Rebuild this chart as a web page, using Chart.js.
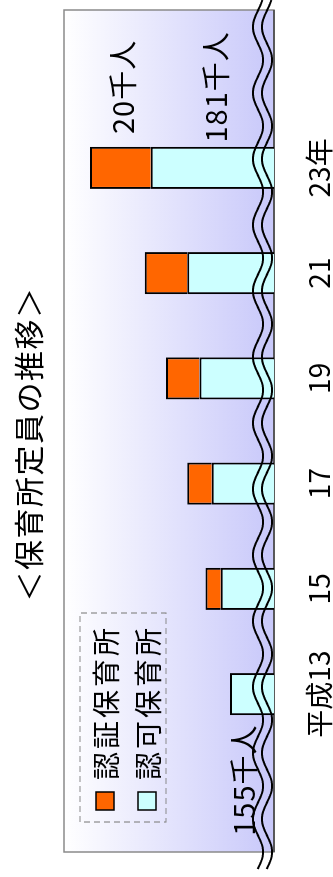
<!DOCTYPE html>
<html lang="ja">
<head>
<meta charset="utf-8">
<title>保育所定員の推移</title>
<script src="https://cdn.jsdelivr.net/npm/chart.js@4/dist/chart.umd.min.js"></script>
<style>
  html, body { margin: 0; padding: 0; background: #fff; overflow: hidden; }
  /* the chart is laid out landscape and turned a quarter turn */
  #wrap {
    position: absolute; left: 0; top: 0;
    width: 877px; height: 333px;
    transform-origin: 0 0;
    transform: translate(0, 877px) rotate(-90deg);
  }
</style>
</head>
<body>
<div id="wrap"><canvas id="chart" width="877" height="333"></canvas></div>
<script>
// blank slots at both ends leave room for the legend and the labels
const categories = ['', '平成13', '15', '17', '19', '21', '23年', ''];
const ninkaValues = [null, 155, 158, 161, 165, 169, 181, null];   // 認可保育所 (千人)
const ninshoValues = [null, null, 5, 8, 11, 14, 20, null];        // 認証保育所 (千人)
const seriesNames = ['認可保育所', '認証保育所'];
const seriesColors = ['#ccffff', '#ff6600'];
const chartTitle = '＜保育所定員の推移＞';
const unit = '千人';
// value axis starts above zero (broken axis)
const axisMin = 140.55;
const axisMax = 209.5;

const FONT = '"Noto Sans CJK JP", "Noto Sans", sans-serif';

const plotBackground = {
  id: 'plotBackground',
  beforeDatasetsDraw(chart) {
    const { ctx, chartArea: a } = chart;
    ctx.save();
    const g = ctx.createLinearGradient(0, a.top, 0, a.bottom);
    g.addColorStop(0, '#ffffff');
    g.addColorStop(1, '#c8c8fa');
    ctx.fillStyle = g;
    ctx.fillRect(a.left, a.top, a.right - a.left, a.bottom - a.top);
    ctx.strokeStyle = '#8a8a8a';
    ctx.lineWidth = 1.5;
    ctx.strokeRect(a.left, a.top, a.right - a.left, a.bottom - a.top);
    ctx.strokeStyle = '#404040';
    ctx.beginPath();
    ctx.moveTo(a.left, a.bottom);
    ctx.lineTo(a.right, a.bottom);
    ctx.stroke();
    ctx.restore();
  }
};

// value labels: 155千人 on the first bar, 181千人 / 20千人 on the last
const valueLabels = {
  id: 'valueLabels',
  afterDatasetsDraw(chart) {
    const { ctx } = chart;
    const first = 1, last = 6;
    const ninka = chart.getDatasetMeta(0).data;
    const ninsho = chart.getDatasetMeta(1).data;
    ctx.save();
    ctx.fillStyle = '#000';
    ctx.font = '29px ' + FONT;
    ctx.textAlign = 'center';
    ctx.textBaseline = 'middle';
    if ('letterSpacing' in ctx) ctx.letterSpacing = '1px';

    const b0 = ninka[first];
    ctx.fillText(ninkaValues[first] + unit, b0.x - 86, b0.y + 14);

    const bl = ninka[last];
    const bottom = chart.chartArea.bottom;
    ctx.fillText(ninkaValues[last] + unit, bl.x + 81, (bl.y + bottom) / 2 + 4);

    const ol = ninsho[last];
    ctx.fillText(ninshoValues[last] + unit, ol.x + 81, (ol.y + ol.base) / 2 + 3);
    ctx.restore();
  }
};

// double wavy line marking the break in the value axis
const breakMarks = {
  id: 'breakMarks',
  afterDatasetsDraw(chart) {
    const { ctx, width } = chart;
    ctx.save();
    ctx.strokeStyle = '#000';
    ctx.lineWidth = 2;
    [258, 267].forEach(c => {
      ctx.beginPath();
      for (let x = 8; x <= width; x++) {
        const y = c - 5 * Math.cos(2 * Math.PI * (x - 850) / 66);
        if (x === 8) ctx.moveTo(x, y); else ctx.lineTo(x, y);
      }
      ctx.stroke();
    });
    ctx.restore();
  }
};

const legendBox = {
  id: 'legendBox',
  afterDraw(chart) {
    const { ctx } = chart;
    ctx.save();
    ctx.strokeStyle = '#8a8a8a';
    ctx.lineWidth = 1.2;
    ctx.setLineDash([6, 4]);
    ctx.strokeRect(55, 80, 209, 86);
    ctx.setLineDash([]);
    ctx.font = '28px ' + FONT;
    ctx.textBaseline = 'middle';
    ctx.textAlign = 'left';
    if ('letterSpacing' in ctx) ctx.letterSpacing = '3px';
    // 認証 first, 認可 below it
    [1, 0].forEach((ds, row) => {
      const cy = 105 + row * 42;
      ctx.fillStyle = seriesColors[ds];
      ctx.fillRect(67, cy - 9, 18, 18);
      ctx.strokeStyle = '#000';
      ctx.lineWidth = 1.5;
      ctx.strokeRect(67, cy - 9, 18, 18);
      ctx.fillStyle = '#000';
      ctx.fillText(seriesNames[ds], 97, cy + 1);
    });
    ctx.restore();
  }
};

const titleText = {
  id: 'titleText',
  afterDraw(chart) {
    const { ctx } = chart;
    ctx.save();
    ctx.fillStyle = '#000';
    ctx.font = '30px ' + FONT;
    ctx.textAlign = 'center';
    ctx.textBaseline = 'middle';
    if ('letterSpacing' in ctx) ctx.letterSpacing = '1.5px';
    ctx.fillText(chartTitle, 433, 29);
    ctx.restore();
  }
};

// segments share one edge, so the lower one carries it
const segBorder = { top: 2, left: 2, right: 2, bottom: 0 };

new Chart(document.getElementById('chart'), {
  type: 'bar',
  data: {
    labels: categories,
    datasets: [
      {
        label: seriesNames[0],
        data: ninkaValues,
        backgroundColor: seriesColors[0],
        borderColor: '#000',
        borderWidth: segBorder,
        borderSkipped: false
      },
      {
        label: seriesNames[1],
        data: ninshoValues,
        backgroundColor: seriesColors[1],
        borderColor: '#000',
        borderWidth: segBorder,
        borderSkipped: false
      }
    ]
  },
  options: {
    responsive: false,
    animation: false,
    devicePixelRatio: 1,
    layout: { padding: { left: 25, right: 10, top: 64, bottom: -31 } },
    datasets: { bar: { categoryPercentage: 1, barPercentage: 0.4 } },
    scales: {
      x: {
        stacked: true,
        grid: { display: false, drawTicks: false },
        border: { display: false },
        ticks: {
          color: '#000',
          font: { family: FONT, size: 28, lineHeight: 1 },
          padding: 31,
          maxRotation: 0,
          autoSkip: false
        }
      },
      y: { stacked: true, display: false, min: axisMin, max: axisMax }
    },
    plugins: {
      legend: { display: false },
      tooltip: { enabled: false }
    }
  },
  plugins: [plotBackground, valueLabels, breakMarks, legendBox, titleText]
});
</script>
</body>
</html>
